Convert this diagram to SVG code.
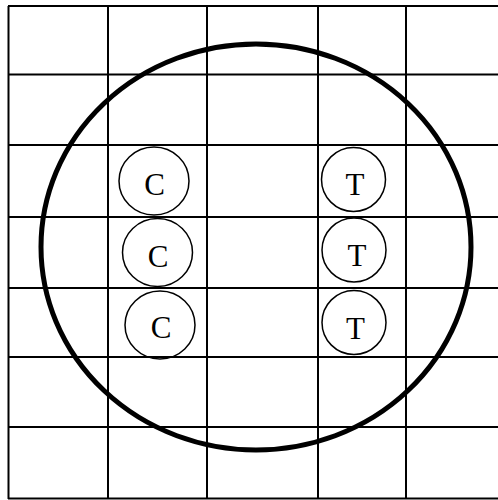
<svg xmlns="http://www.w3.org/2000/svg" width="498" height="500" viewBox="0 0 498 500">
  <style>
    .grid { stroke: #000; stroke-width: 2; fill: none; }
    .dish { stroke: #000; stroke-width: 5; fill: none; }
    .well { stroke: #000; stroke-width: 1.5; fill: none; }
    .lbl { font-family: "Liberation Serif", "Times New Roman", serif; font-size: 31px; fill: #000; text-anchor: middle; }
  </style>
  <rect width="498" height="500" fill="#fff"/>
  <g id="grid" class="grid">
    <line x1="8.5" y1="6" x2="8.5" y2="499"/>
    <line x1="108" y1="6" x2="108" y2="499"/>
    <line x1="207" y1="6" x2="207" y2="499"/>
    <line x1="318" y1="6" x2="318" y2="499"/>
    <line x1="406" y1="6" x2="406" y2="499"/>
    <line x1="8" y1="6" x2="498" y2="6"/>
    <line x1="8" y1="74.5" x2="498" y2="74.5"/>
    <line x1="8" y1="145" x2="498" y2="145"/>
    <line x1="8" y1="217" x2="498" y2="217"/>
    <line x1="8" y1="288" x2="498" y2="288"/>
    <line x1="8" y1="357" x2="498" y2="357"/>
    <line x1="8" y1="427" x2="498" y2="427"/>
    <line x1="8" y1="498.5" x2="498" y2="498.5"/>
  </g>
  <g id="dish">
    <ellipse class="dish" cx="256" cy="247" rx="215" ry="203"/>
  </g>
  <g id="c1"><ellipse class="well" cx="154" cy="181" rx="35" ry="34"/><text class="lbl" x="154.5" y="194.5">C</text></g>
  <g id="c2"><ellipse class="well" cx="157.5" cy="252.5" rx="35" ry="34"/><text class="lbl" x="158" y="266.5">C</text></g>
  <g id="c3"><ellipse class="well" cx="160" cy="325" rx="35" ry="34"/><text class="lbl" x="161" y="338">C</text></g>
  <g id="t1"><circle class="well" cx="353.5" cy="179.5" r="32"/><text class="lbl" x="355" y="194.5">T</text></g>
  <g id="t2"><circle class="well" cx="354" cy="250" r="32"/><text class="lbl" x="357" y="265.5">T</text></g>
  <g id="t3"><circle class="well" cx="354" cy="322.5" r="32"/><text class="lbl" x="355.5" y="338.5">T</text></g>
</svg>
